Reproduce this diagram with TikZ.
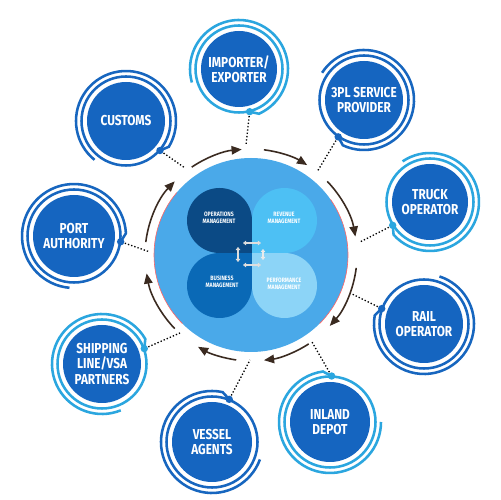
\documentclass[tikz,border=0pt]{standalone}
\usepackage{fontspec}
\setmainfont{Fira Sans}[FakeStretch=0.82]
\usetikzlibrary{arrows.meta,calc}
\definecolor{nodeblue}{HTML}{1565C0}
\definecolor{ringlight}{HTML}{2BA6DF}
\definecolor{ringdark}{HTML}{1766BF}
\definecolor{hubblue}{HTML}{4AA9E9}
\definecolor{opsc}{HTML}{0B4A85}
\definecolor{revc}{HTML}{4DC0F4}
\definecolor{busc}{HTML}{0A69B6}
\definecolor{perfc}{HTML}{8CD4F7}
\definecolor{brn}{HTML}{3A2A20}
\tikzset{
  extbox/.style={circle, fill=nodeblue, text=white, align=center, inner sep=0pt,
    font=\bfseries\fontsize{8.2}{8.6}\selectfont},
  ringline/.style={line width=1.45pt},
  petaltext/.style={text=white, align=center, inner sep=0pt,
    font=\bfseries\fontsize{3.6}{4.2}\selectfont},
  cyclearrow/.style={brn, line width=0.9pt, -{Triangle[length=5.8pt,width=4.8pt]}},
  dotline/.style={line width=0.75pt, dash pattern=on 0.75pt off 1.15pt, shorten <=2.5pt},
  smallarrow/.style={draw=black!13, line width=0.85pt, {Triangle[length=1.8pt,width=2.7pt]}-{Triangle[length=1.8pt,width=2.7pt]}}
}
% #1 name, #2 x, #3 y, #4 radius, #5 dot angle, #6 ring colour, #7 text
\newcommand\extnode[7]{%
  \node[extbox, minimum size={2*#4*0.02cm}] (#1) at (#2,#3) {#7};
  \begin{scope}[shift={(#2,#3)}]
    \pgfmathsetmacro\rin{#4+5.5}
    \pgfmathsetmacro\rdot{#4+6}
    \pgfmathsetmacro\rout{#4+11}
    \pgfmathsetmacro\aout{#5+10}
    \draw[ringline, #6] (0,0) circle[radius=\rin];
    \draw[ringline, #6] (#5:\rdot) -- (\aout:\rout) arc[start angle=\aout, delta angle=262, radius=\rout];
    \fill[#6] (#5:\rdot) circle[radius=3.7];
    \coordinate (#1-dot) at (#5:\rdot);
  \end{scope}}
\begin{document}
\begin{tikzpicture}[x=0.02cm,y=0.02cm]
\useasboundingbox (0,0) rectangle (500,500);
\fill[white] (0,0) rectangle (500,500);
% hub
\coordinate (ctr) at (251,245);
\fill[hubblue] (ctr) circle[radius=97];
\begin{scope}[shift={(ctr)}]
\draw[red!60!white, line width=0.35pt] (140:97) arc[start angle=140, end angle=225, radius=97];
\draw[red!60!white, line width=0.35pt] (-45:97) arc[start angle=-45, end angle=35, radius=97];
\end{scope}
% petals
\fill[opsc] (219.5,279.5) circle[radius=32.5];
\fill[opsc] (219.5,247) rectangle (252,279.5);
\fill[revc] (284.5,279.5) circle[radius=32.5];
\fill[revc] (252,247) rectangle (284.5,279.5);
\fill[busc] (219.5,214.5) circle[radius=32.5];
\fill[busc] (219.5,214.5) rectangle (252,247);
\fill[perfc] (284.5,214.5) circle[radius=32.5];
\fill[perfc] (252,214.5) rectangle (284.5,247);
\node[petaltext] (ops) at (219,282) {OPERATIONS\\MANAGEMENT};
\node[petaltext] (rev) at (284,282) {REVENUE\\MANAGEMENT};
\node[petaltext] (bus) at (222,218) {BUSINESS\\MANAGEMENT};
\node[petaltext] (perf) at (284,216) {PERFORMANCE\\MANAGEMENT};
% small arrows in the middle
\coordinate (sa1) at (243,257); \coordinate (sa2) at (261,257);
\coordinate (sa3) at (238,253); \coordinate (sa4) at (238,238);
\coordinate (sa5) at (243,235); \coordinate (sa6) at (261,235);
\coordinate (sa7) at (263,251); \coordinate (sa8) at (263,240);
\draw[smallarrow] (sa1) -- (sa2);
\draw[smallarrow] (sa3) -- (sa4);
\draw[smallarrow] (sa5) -- (sa6);
\draw[smallarrow, draw=black!8] (sa7) -- (sa8);
% cycle arrows
\begin{scope}[shift={(ctr)}]
\foreach \a/\b in {124/95, 83/58, 44/10, -7/-42, -57/-83, -98/-120, -136/-170, 173/136}
  \draw[cyclearrow] (\a:106) arc[start angle=\a, end angle=\b, radius=106];
\end{scope}
% outer nodes
\extnode{imp}{239}{431}{38}{-76}{ringlight}{IMPORTER/\\EXPORTER}
\extnode{tpl}{364}{400}{39}{-125}{ringdark}{3PL SERVICE\\PROVIDER}
\extnode{truck}{430}{298}{38}{-148}{ringlight}{TRUCK\\OPERATOR}
\extnode{rail}{424}{176}{39}{160}{ringdark}{RAIL\\OPERATOR}
\extnode{inland}{330}{78}{40}{88}{ringlight}{INLAND\\DEPOT}
\extnode{vessel}{212}{58}{40}{68}{ringdark}{VESSEL\\AGENTS}
\extnode{ship}{102}{136}{39}{20}{ringlight}{SHIPPING\\LINE/VSA\\PARTNERS}
\extnode{port}{74}{264}{41}{-7}{ringdark}{PORT\\AUTHORITY}
\extnode{cust}{126}{379}{39}{-41}{ringdark}{CUSTOMS}
% connector ends at the hub
\coordinate (e-imp) at (246,355);
\coordinate (e-tpl) at (317,328);
\coordinate (e-truck) at (360,258);
\coordinate (e-rail) at (352,206);
\coordinate (e-inland) at (312,158);
\coordinate (e-vessel) at (250,140);
\coordinate (e-ship) at (180,167);
\coordinate (e-port) at (150,248);
\coordinate (e-cust) at (185,332);
\foreach \n in {imp,tpl,truck,rail,inland,vessel,ship,port,cust}
  \draw[dotline] (\n-dot) -- (e-\n);
\end{tikzpicture}
\end{document}
